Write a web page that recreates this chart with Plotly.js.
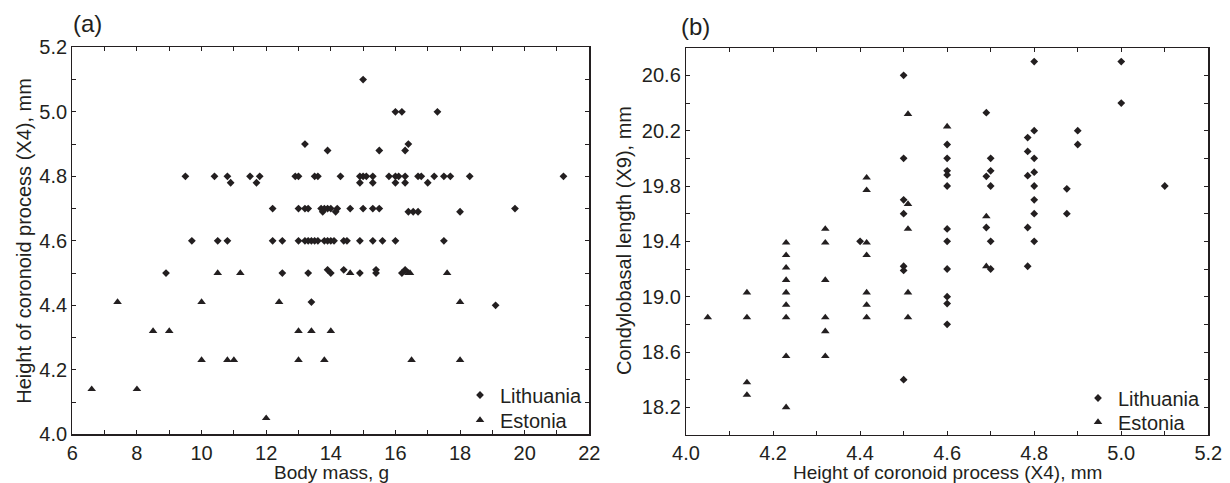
<!DOCTYPE html>
<html>
<head>
<meta charset="utf-8">
<script src="https://cdn.plot.ly/plotly-3.0.1.min.js"></script>
<style>
  html, body { margin: 0; padding: 0; background: #ffffff; }
  #chart { width: 1230px; height: 483px; }
</style>
</head>
<body>
<div id="chart"></div>
<script>
// ---------- Panel (a): Body mass (g) vs Height of coronoid process X4 (mm) ----------
const aLithuaniaMass = [
  9.5, 10.4, 10.8, 11.5, 11.8, 12.9, 13.0, 13.5, 13.6, 14.3, 14.9, 15.0, 15.1, 15.3, 15.8, 16.0, 16.1, 16.3, 16.7, 16.8, 17.2, 17.5, 17.7, 18.3, 21.2,
  10.9, 11.7, 14.9, 15.3, 16.0, 16.3, 17.0,
  15.0,
  16.0, 16.2, 17.3,
  13.2, 16.4,
  13.9, 15.5, 16.3,
  12.2, 13.0, 13.2, 13.3, 13.7, 13.8, 13.9, 14.0, 14.2, 14.6, 15.0, 15.3, 15.5, 19.7,
  13.75, 14.15, 16.4, 16.55, 16.7, 18.0,
  9.7, 10.5, 10.8, 12.2, 12.5, 13.0, 13.2, 13.3, 13.4, 13.5, 13.6, 13.8, 13.9, 14.0, 14.1, 14.4, 14.5, 14.9, 15.3, 15.6, 16.0, 17.5,
  8.9, 12.5, 13.3, 14.0, 14.9, 15.4, 16.2,
  13.9, 14.4, 15.4, 16.3,
  13.4, 19.1
];
const aLithuaniaHeight = [
  4.8, 4.8, 4.8, 4.8, 4.8, 4.8, 4.8, 4.8, 4.8, 4.8, 4.8, 4.8, 4.8, 4.8, 4.8, 4.8, 4.8, 4.8, 4.8, 4.8, 4.8, 4.8, 4.8, 4.8, 4.8,
  4.78, 4.78, 4.78, 4.78, 4.78, 4.78, 4.78,
  5.1,
  5.0, 5.0, 5.0,
  4.9, 4.9,
  4.88, 4.88, 4.88,
  4.7, 4.7, 4.7, 4.7, 4.7, 4.7, 4.7, 4.7, 4.7, 4.7, 4.7, 4.7, 4.7, 4.7,
  4.69, 4.69, 4.69, 4.69, 4.69, 4.69,
  4.6, 4.6, 4.6, 4.6, 4.6, 4.6, 4.6, 4.6, 4.6, 4.6, 4.6, 4.6, 4.6, 4.6, 4.6, 4.6, 4.6, 4.6, 4.6, 4.6, 4.6, 4.6,
  4.5, 4.5, 4.5, 4.5, 4.5, 4.5, 4.5,
  4.51, 4.51, 4.51, 4.51,
  4.41, 4.4
];
const aEstoniaMass = [
  7.4, 10.0, 12.4, 18.0,
  10.5, 11.2, 14.6, 16.4, 16.45, 17.6,
  8.5, 9.0, 13.0, 13.4, 14.0,
  10.0, 10.8, 11.0, 13.0, 13.8, 16.5, 18.0,
  6.6, 8.0,
  12.0
];
const aEstoniaHeight = [
  4.41, 4.41, 4.41, 4.41,
  4.5, 4.5, 4.5, 4.5, 4.5, 4.5,
  4.32, 4.32, 4.32, 4.32, 4.32,
  4.23, 4.23, 4.23, 4.23, 4.23, 4.23, 4.23,
  4.14, 4.14,
  4.05
];

// ---------- Panel (b): Height of coronoid process X4 (mm) vs Condylobasal length X9 (mm) ----------
const bLithuaniaX4 = [
  4.4,
  4.5, 4.5, 4.5, 4.5, 4.5, 4.5, 4.5,
  4.6, 4.6, 4.6, 4.6, 4.6, 4.6, 4.6, 4.6, 4.6, 4.6, 4.6,
  4.69, 4.69, 4.69,
  4.7, 4.7, 4.7, 4.7, 4.7,
  4.785, 4.785, 4.785, 4.785, 4.785,
  4.8, 4.8, 4.8, 4.8, 4.8, 4.8, 4.8, 4.8,
  4.875, 4.875,
  4.9, 4.9,
  5.0, 5.0,
  5.1
];
const bLithuaniaX9 = [
  19.4,
  20.6, 20.0, 19.7, 19.6, 19.22, 19.19, 18.4,
  20.1, 20.0, 19.91, 19.88, 19.8, 19.49, 19.4, 19.2, 19.0, 18.95, 18.8,
  20.33, 19.87, 19.5,
  20.0, 19.91, 19.8, 19.4, 19.2,
  20.15, 20.05, 19.875, 19.5, 19.22,
  20.7, 20.2, 20.0, 19.9, 19.8, 19.7, 19.6, 19.4,
  19.78, 19.6,
  20.2, 20.1,
  20.7, 20.4,
  19.8
];
const bEstoniaX4 = [
  4.05,
  4.14, 4.14, 4.14, 4.14,
  4.23, 4.23, 4.23, 4.23, 4.23, 4.23, 4.23, 4.23, 4.23,
  4.32, 4.32, 4.32, 4.32, 4.32, 4.32,
  4.415, 4.415, 4.415, 4.415, 4.415, 4.415, 4.415,
  4.51, 4.51, 4.51, 4.51, 4.51,
  4.6,
  4.69, 4.69
];
const bEstoniaX9 = [
  18.85,
  19.03, 18.85, 18.38, 18.29,
  19.39, 19.3, 19.21, 19.12, 19.03, 18.94, 18.85, 18.57, 18.2,
  19.49, 19.39, 19.12, 18.85, 18.75, 18.57,
  19.86, 19.77, 19.39, 19.3, 19.03, 18.94, 18.85,
  20.32, 19.67, 19.49, 19.03, 18.85,
  20.23,
  19.58, 19.22
];

const seriesNames = ["Lithuania", "Estonia"];
const panelLabels = ["(a)", "(b)"];
const axisTitles = {
  ax: "Body mass, g",
  ay: "Height of coronoid process (X4), mm",
  bx: "Height of coronoid process (X4), mm",
  by: "Condylobasal length (X9), mm"
};

const INK = "#231f20";
const FONT = "Liberation Sans, Arial, Helvetica, sans-serif";

function diamondTrace(x, y, xa, ya, leg, name) {
  return { type: "scatter", mode: "markers", x: x, y: y, xaxis: xa, yaxis: ya, legend: leg, name: name,
    marker: { symbol: "diamond", size: 6, color: INK, line: { width: 0 } }, hoverinfo: "x+y" };
}
function triangleTrace(x, y, xa, ya, leg, name) {
  return { type: "scatter", mode: "markers", x: x, y: y, xaxis: xa, yaxis: ya, legend: leg, name: name,
    marker: { symbol: "triangle-up", size: 7.5, color: INK, line: { width: 0 } }, hoverinfo: "x+y" };
}

const data = [
  diamondTrace(aLithuaniaMass, aLithuaniaHeight, "x", "y", "legend", seriesNames[0]),
  triangleTrace(aEstoniaMass, aEstoniaHeight, "x", "y", "legend2", seriesNames[1]),
  diamondTrace(bLithuaniaX4, bLithuaniaX9, "x2", "y2", "legend3", seriesNames[0]),
  triangleTrace(bEstoniaX4, bEstoniaX9, "x2", "y2", "legend4", seriesNames[1])
];

function axisBase(extra) {
  return Object.assign({
    showline: true, linecolor: INK, linewidth: 1.2, mirror: "ticks",
    ticks: "inside", ticklen: 4, tickwidth: 1, tickcolor: INK,
    showgrid: false, zeroline: false, automargin: false,
    tickfont: { family: FONT, size: 20, color: INK }
  }, extra);
}

const W = 1230, H = 483;

function legendAt(textLeftPx, centerYPx) {
  return {
    x: (textLeftPx - 42) / W, xanchor: "left", y: 1 - centerYPx / H, yanchor: "middle",
    bgcolor: "rgba(0,0,0,0)", borderwidth: 0, itemwidth: 30, tracegroupgap: 0,
    font: { family: FONT, size: 20, color: INK }
  };
}
function textAnn(text, xPx, yPx, size, angle) {
  return { text: text, xref: "paper", yref: "paper", x: xPx / W, y: 1 - yPx / H,
    xanchor: "center", yanchor: "middle", showarrow: false, textangle: angle || 0,
    font: { family: FONT, size: size, color: INK } };
}

const layout = {
  width: W, height: H,
  margin: { l: 0, r: 0, t: 0, b: 0 },
  paper_bgcolor: "#ffffff", plot_bgcolor: "#ffffff",
  font: { family: FONT, size: 20, color: INK },
  showlegend: true,
  xaxis: axisBase({
    domain: [72.3 / W, 589.3 / W], anchor: "y",
    range: [6, 22], tick0: 6, dtick: 2,
    minor: { dtick: 1, ticks: "inside", ticklen: 4, tickcolor: INK, showgrid: false }
  }),
  yaxis: axisBase({
    domain: [(H - 434.3) / H, (H - 47.3) / H], anchor: "x",
    range: [4.0, 5.2], tick0: 4.0, dtick: 0.2, tickformat: ".1f",
    minor: { dtick: 0.1, ticks: "inside", ticklen: 4, tickcolor: INK, showgrid: false }
  }),
  xaxis2: axisBase({
    domain: [686 / W, 1208.3 / W], anchor: "y2",
    range: [4.0, 5.2], tick0: 4.0, dtick: 0.2, tickformat: ".1f",
    minor: { dtick: 0.1, ticks: "inside", ticklen: 4, tickcolor: INK, showgrid: false }
  }),
  yaxis2: axisBase({
    domain: [(H - 435) / H, (H - 47.7) / H], anchor: "x2",
    range: [18.0, 20.8], tick0: 18.2, dtick: 0.4, tickformat: ".1f",
    minor: { tick0: 18.0, dtick: 0.2, ticks: "inside", ticklen: 4, tickcolor: INK, showgrid: false }
  }),
  legend: legendAt(502, 395),
  legend2: legendAt(502, 420),
  legend3: legendAt(1120, 398),
  legend4: legendAt(1120, 422),
  annotations: [
    textAnn(panelLabels[0], 87.5, 24, 24),
    textAnn(panelLabels[1], 695.5, 26.7, 24),
    textAnn(axisTitles.ax, 331, 472.5, 19),
    textAnn(axisTitles.ay, 24, 240.8, 20, -90),
    textAnn(axisTitles.bx, 947, 472.5, 19),
    textAnn(axisTitles.by, 624, 241, 20, -90)
  ]
};

Plotly.newPlot("chart", data, layout, { displayModeBar: false, staticPlot: true });
</script>
</body>
</html>
